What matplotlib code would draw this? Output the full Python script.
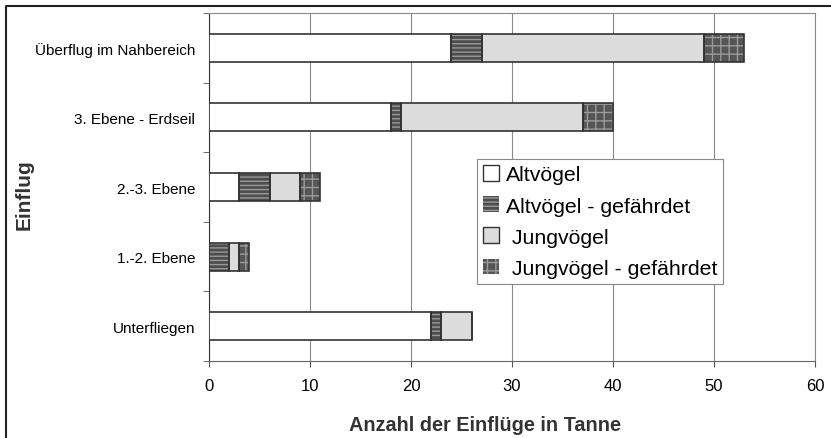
import matplotlib
matplotlib.use("Agg")
import matplotlib.pyplot as plt
from matplotlib.patches import Patch
from matplotlib.lines import Line2D
import numpy as np

plt.rcParams['font.family'] = ['Liberation Sans', 'DejaVu Sans']
plt.rcParams['hatch.linewidth'] = 1.0

# data (top to bottom)
kategorien = ["Überflug im Nahbereich", "3. Ebene - Erdseil", "2.-3. Ebene",
              "1.-2. Ebene", "Unterfliegen"]
altvoegel = [24, 18, 3, 0, 22]
altvoegel_gef = [3, 1, 3, 2, 1]
jungvoegel = [22, 18, 3, 1, 3]
jungvoegel_gef = [4, 3, 2, 1, 0]

serien = [
    ("Altvögel", altvoegel, 'white', None),
    ("Altvögel - gefährdet", altvoegel_gef, '#4d4d4d', '----'),
    (" Jungvögel", jungvoegel, '#dcdcdc', None),
    (" Jungvögel - gefährdet", jungvoegel_gef, '#555555', '++'),
]

fig = plt.figure(figsize=(8.31, 4.39), dpi=100)
ax = fig.add_axes([0.2515, 0.1754, 0.7292, 0.7927])

y = np.arange(len(kategorien))
links = np.zeros(len(kategorien))
handles = []
for name, werte, farbe, hatch in serien:
    werte = np.array(werte, dtype=float)
    if hatch:
        ax.barh(y, werte, left=links, height=0.4, color=farbe, hatch=hatch,
                edgecolor='#9a9a9a', linewidth=0, zorder=3)
        handles.append(Patch(facecolor=farbe, hatch=hatch, edgecolor='#9a9a9a',
                             linewidth=0, label=name))
    else:
        ax.barh(y, werte, left=links, height=0.4, color=farbe, linewidth=0, zorder=3)
        handles.append(Patch(facecolor=farbe, edgecolor='#333333',
                             linewidth=1, label=name))
    # outline
    ax.barh(y, werte, left=links, height=0.4, fill=False,
            edgecolor='#333333', linewidth=1.2, zorder=4)
    links += werte

ax.set_xlim(0, 60)
ax.set_ylim(len(kategorien) - 0.5, -0.5)
ax.set_xticks(np.arange(0, 61, 10))
ax.set_yticks(y)
ax.set_yticklabels(kategorien, fontsize=11)
ax.set_yticks(np.arange(-0.5, len(kategorien), 1), minor=True)
ax.tick_params(axis='y', which='major', length=0, pad=10)
ax.tick_params(axis='y', which='minor', length=4, color='#555555')
ax.tick_params(axis='x', labelsize=12, length=4, color='#555555', pad=8)
ax.grid(axis='x', color='#8a8a8a', linewidth=0.8, zorder=0)

for s in ['top', 'right']:
    ax.spines[s].set_color('#8a8a8a')
    ax.spines[s].set_linewidth(0.8)
ax.spines['left'].set_color('#333333')
ax.spines['bottom'].set_color('#666666')

leg = ax.legend(handles=handles, loc='lower left', bbox_to_anchor=(0.442, 0.221),
                fontsize=15.3, fancybox=False, framealpha=1, edgecolor='#888888',
                handlelength=0.75, handleheight=0.75, handletextpad=0.3,
                labelspacing=0.56, borderpad=0.3, borderaxespad=0)
leg.get_frame().set_linewidth(0.8)

fig.text(0.584, 0.030, "Anzahl der Einflüge in Tanne", fontsize=14.3,
         fontweight='bold', ha='center', va='center', color='#333333')
fig.text(0.029, 0.556, "Einflug", fontsize=15, fontweight='bold', rotation=90,
         ha='center', va='center', color='#333333')

# border of the chart (only top and left are inside the scan)
fig.add_artist(Line2D([6 / 831, 6 / 831, 1.0], [0.0, 1 - 7 / 439, 1 - 7 / 439],
                      transform=fig.transFigure, color='#222222', linewidth=1.5))

fig.savefig("out.png", dpi=100)
